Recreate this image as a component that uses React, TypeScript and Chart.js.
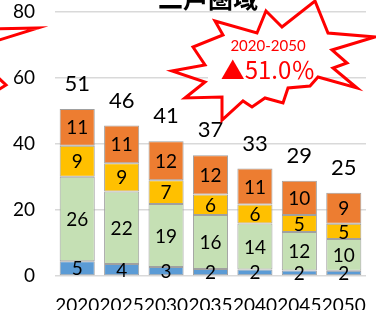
import React, { useEffect, useRef } from "react";
import { Chart, registerables } from "chart.js";

Chart.register(...registerables);

// ---- data ----
const years = ["2020", "2025", "2030", "2035", "2040", "2045", "2050"];
const seriesNames = ["0〜14歳", "15〜64歳", "65〜74歳", "75歳以上"];
const youngPop = [4.5, 3.6, 2.7, 2.1, 2.0, 1.7, 1.6];
const workingPop = [25.6, 22.0, 19.1, 16.4, 13.9, 11.6, 9.6];
const earlyElderPop = [9.4, 8.6, 7.2, 6.2, 5.8, 5.2, 4.6];
const lateElderPop = [11.1, 11.4, 11.8, 11.9, 10.9, 10.4, 9.4];
const yMax = 80;
const yStep = 20;
const titleText = "二戸圏域";
const calloutLine1 = "2020-2050";
const calloutLine2 = "▲51.0％";

const colors = ["#5B9BD5", "#C5E0B4", "#FFC000", "#ED7D31"];
const FONT = "Lato, 'Noto Sans', sans-serif";

// decorative explosion outline (canvas px)
const starPts: [number, number][] = [
  [266, 11], [282, 27], [315, 1], [328, 33], [375, 37], [332, 50], [347, 63],
  [333, 68], [357, 88], [318, 77], [310, 86], [288, 88], [283, 103], [265, 98],
  [252, 107], [243, 101], [222, 120], [222, 97], [185, 98], [205, 82], [172, 71],
  [205, 65], [193, 47], [223, 35], [215, 21], [257, 33],
];
const leftBurstA: [number, number][] = [[-20, 29], [38, 28], [-20, 46]];
const leftBurstB: [number, number][] = [[-12, 68], [6, 85], [-12, 96]];

const overlay = {
  id: "overlay",
  afterDatasetsDraw(chart: any) {
    const ctx = chart.ctx;
    ctx.save();
    ctx.fillStyle = "#000";
    ctx.textAlign = "center";
    ctx.textBaseline = "middle";
    ctx.font = `19px ${FONT}`;
    chart.data.datasets.forEach((ds: any, di: number) => {
      const meta = chart.getDatasetMeta(di);
      meta.data.forEach((bar: any, i: number) => {
        const p = bar.getProps(["x", "y", "base"], true);
        ctx.fillText(String(Math.round(ds.data[i])), p.x, (p.y + p.base) / 2 + 1);
      });
    });
    ctx.font = `22px ${FONT}`;
    const lastMeta = chart.getDatasetMeta(chart.data.datasets.length - 1);
    lastMeta.data.forEach((bar: any, i: number) => {
      let total = 0;
      chart.data.datasets.forEach((ds: any) => (total += ds.data[i]));
      const p = bar.getProps(["x", "y"], true);
      ctx.fillText(String(Math.round(total)), p.x, p.y - 25);
    });
    ctx.restore();
  },
  afterDraw(chart: any) {
    const ctx = chart.ctx;
    ctx.save();
    // title (clipped at top)
    ctx.fillStyle = "#000";
    ctx.textAlign = "center";
    ctx.textBaseline = "middle";
    ctx.font = `bold 25px 'Noto Sans CJK JP'`;
    ctx.fillText(titleText, 208, -2);

    // callout text box background
    ctx.fillStyle = "#fff";
    ctx.fillRect(208, 38, 108, 47);

    // explosion outlines
    ctx.strokeStyle = "#FF0000";
    ctx.lineWidth = 3;
    ctx.lineJoin = "miter";
    ctx.beginPath();
    starPts.forEach(([x, y], i) => (i ? ctx.lineTo(x, y) : ctx.moveTo(x, y)));
    ctx.closePath();
    ctx.stroke();
    [leftBurstA, leftBurstB].forEach((pts) => {
      ctx.beginPath();
      pts.forEach(([x, y], i) => (i ? ctx.lineTo(x, y) : ctx.moveTo(x, y)));
      ctx.stroke();
    });

    // callout text
    ctx.fillStyle = "#FF0000";
    ctx.font = `15px ${FONT}`;
    ctx.fillText(calloutLine1, 268, 46);
    ctx.font = `24px 'Noto Sans CJK JP'`;
    ctx.fillText(calloutLine2, 268, 70);
    ctx.restore();
  },
};

export default function App() {
  const ref = useRef<HTMLCanvasElement>(null);
  useEffect(() => {
    const seriesData = [youngPop, workingPop, earlyElderPop, lateElderPop];
    const chart = new Chart(ref.current!, {
      type: "bar",
      data: {
        labels: years,
        datasets: seriesData.map((d, i) => ({
          label: seriesNames[i],
          data: d,
          backgroundColor: colors[i],
          borderColor: "#A0A0A0",
          borderWidth: 1,
          borderSkipped: false,
          barPercentage: 0.79,
          categoryPercentage: 1,
        })),
      },
      options: {
        animation: false,
        responsive: true,
        maintainAspectRatio: false,
        layout: { padding: { left: 0, right: 10, top: 12, bottom: 0 } },
        plugins: { legend: { display: false }, tooltip: { enabled: false }, title: { display: false } },
        scales: {
          x: {
            stacked: true,
            grid: { display: false, drawTicks: false },
            border: { display: false },
            ticks: { color: "#000", font: { family: FONT, size: 19 }, padding: 18, maxRotation: 0, autoSkip: false },
            afterFit: (s: any) => { s.height = 34; s.paddingLeft = 0; s.paddingRight = 0; },
          },
          y: {
            stacked: true,
            min: 0,
            max: yMax,
            grid: { color: "#D9D9D9", lineWidth: 1.5, drawTicks: false },
            border: { display: false },
            ticks: { stepSize: yStep, color: "#000", font: { family: FONT, size: 19 }, padding: 20 },
            afterFit: (s: any) => { s.width = 55; s.paddingTop = 0; s.paddingBottom = 0; },
          },
        },
      },
      plugins: [overlay],
    });
    return () => chart.destroy();
  }, []);
  return (
    <div style={{ position: "fixed", left: 0, top: 0, width: 376, height: 310, background: "#fff" }}>
      <canvas ref={ref} />
    </div>
  );
}
